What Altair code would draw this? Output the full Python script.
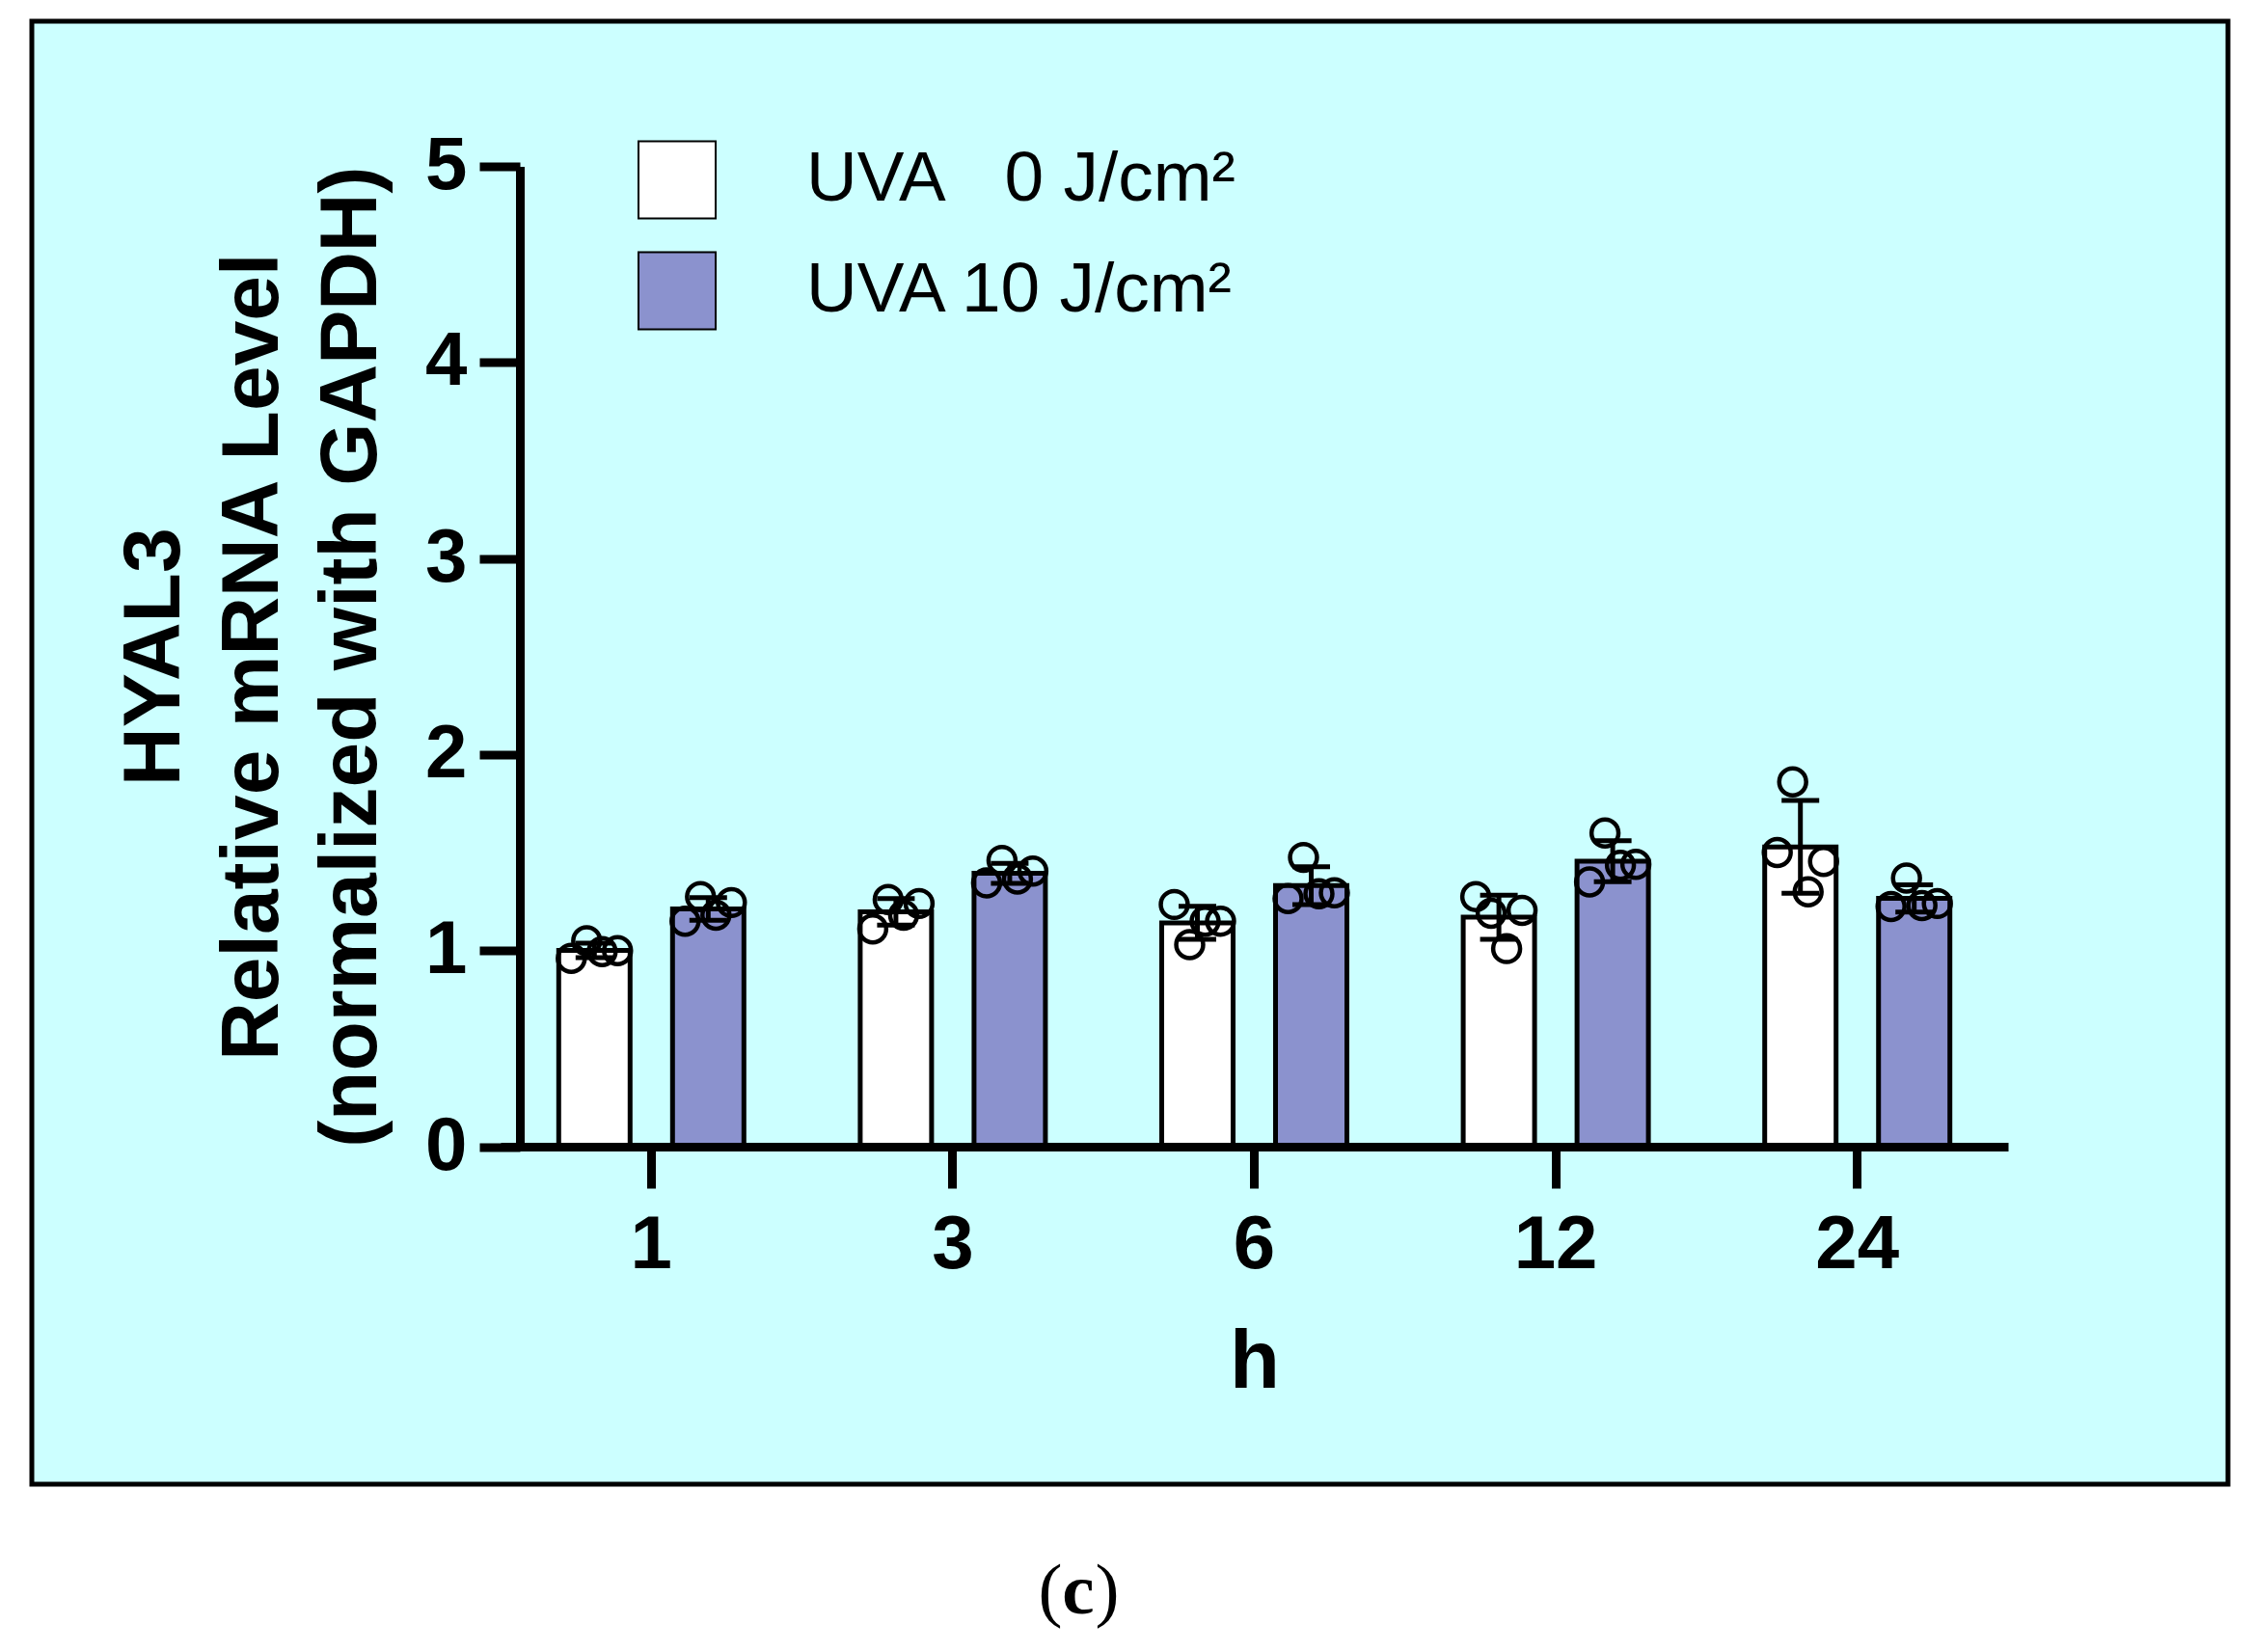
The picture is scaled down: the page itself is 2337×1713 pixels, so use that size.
import pandas as pd
import altair as alt

# hours after irradiation
TIMES = ["1", "3", "6", "12", "24"]
GROUPS = ["UVA\u00a0\u20070 J/cm\u00b2", "UVA 10 J/cm\u00b2"]
COLORS = ["#ffffff", "#8b92ce"]

# replicate values (4 per bar)
UVA0_REPS = [
    [0.96, 1.05, 0.995, 1.00],
    [1.11, 1.26, 1.18, 1.24],
    [1.235, 1.03, 1.15, 1.15],
    [1.275, 1.19, 1.01, 1.205],
    [1.50, 1.86, 1.30, 1.455],
]
UVA10_REPS = [
    [1.15, 1.275, 1.18, 1.245],
    [1.345, 1.46, 1.365, 1.405],
    [1.265, 1.475, 1.29, 1.295],
    [1.35, 1.60, 1.435, 1.44],
    [1.225, 1.37, 1.23, 1.24],
]

rows = []
for cond, reps in zip(GROUPS, [UVA0_REPS, UVA10_REPS]):
    for t, vals in zip(TIMES, reps):
        for i, v in enumerate(vals):
            rows.append({"time": t, "cond": cond, "rep": i + 1, "value": v})
df = pd.DataFrame(rows)

FONT = "Liberation Sans"
W, H = 1563, 1016.6

x_axis = alt.Axis(
    labelAngle=0, labelFont=FONT, labelFontSize=78, labelFontWeight="bold",
    labelColor="black", labelPadding=20, domainColor="black", domainWidth=9,
    tickColor="black", tickWidth=9, tickSize=43, grid=False,
    titleFont=FONT, titleFontSize=85, titleFontWeight="bold", titleColor="black",
    titlePadding=41, zindex=1,
)
y_axis = alt.Axis(
    values=[0, 1, 2, 3, 4, 5], format="d", labelFont=FONT, labelFontSize=78,
    labelFontWeight="bold", labelColor="black", labelPadding=13,
    domainColor="black", domainWidth=9, tickColor="black", tickWidth=9,
    tickSize=42, grid=False, offset=-20, zindex=1,
    titleFont=FONT, titleFontSize=84, titleFontWeight="bold", titleColor="black",
    titleLineHeight=102, titlePadding=33, titleLimit=3000,
)
Y_TITLE = ["HYAL3", "Relative mRNA Level", "(normalized with GAPDH)"]


def x_enc():
    return alt.X("time:N", sort=TIMES, title="h", axis=x_axis,
                 scale=alt.Scale(paddingInner=0, paddingOuter=0))


def y_enc(field):
    return alt.Y(field, title=Y_TITLE, axis=y_axis, scale=alt.Scale(domain=[0, 5]))


offset = alt.XOffset("cond:N", sort=GROUPS,
                     scale=alt.Scale(domain=GROUPS, paddingInner=0.373, paddingOuter=0.511))

base = alt.Chart(df)

bars = base.mark_bar(stroke="black", strokeWidth=5, opacity=1).encode(
    x=x_enc(),
    xOffset=offset,
    y=y_enc("mean(value):Q"),
    fill=alt.Fill(
        "cond:N", sort=GROUPS,
        scale=alt.Scale(domain=GROUPS, range=COLORS),
        legend=alt.Legend(
            title=None, orient="none", legendX=142, legendY=-27, padding=0,
            symbolType="square", symbolSize=6400, symbolStrokeColor="black",
            symbolStrokeWidth=2, symbolOpacity=1, labelFont=FONT, labelFontSize=73,
            labelColor="black", labelOffset=93, rowPadding=27, labelLimit=2000,
        ),
    ),
)

stats = base.transform_aggregate(
    mean="mean(value)", sd="stdev(value)", groupby=["time", "cond"]
).transform_calculate(lo="datum.mean - datum.sd", hi="datum.mean + datum.sd")

err_rule = stats.mark_rule(color="black", strokeWidth=5, opacity=1).encode(
    x=x_enc(), xOffset=offset, y=y_enc("lo:Q"), y2="hi:Q"
)
err_hi = stats.mark_tick(color="black", size=39, thickness=5, opacity=1).encode(
    x=x_enc(), xOffset=offset, y=y_enc("hi:Q")
)
err_lo = stats.mark_tick(color="black", size=39, thickness=5, opacity=1).encode(
    x=x_enc(), xOffset=offset, y=y_enc("lo:Q")
)

# scatter the replicates across each bar
points = base.transform_calculate(
    px=f"(datum.cond == '{GROUPS[0]}' ? -59 : 59) + (datum.rep - 2.5) * 16"
).mark_point(
    shape="circle", filled=False, size=780, strokeWidth=4.5, color="black", opacity=1
).encode(
    x=x_enc(),
    xOffset=alt.XOffset("px:Q", scale=alt.Scale(domain=[-156.3, 156.3], range=[0, 312.6])),
    y=y_enc("value:Q"),
)

one = pd.DataFrame({"a": [0]})
panel = alt.Chart(one).mark_rect(fill="#ccffff", stroke="black", strokeWidth=5).encode(
    x=alt.value(-486), x2=alt.value(1791), y=alt.value(-150.4), y2=alt.value(1366.6)
)
lp = alt.Chart(one).mark_text(text="(", font="Liberation Serif", fontSize=75,
                               baseline="alphabetic", color="black").encode(
    x=alt.value(570), y=alt.value(1500.6))
lc = alt.Chart(one).mark_text(text="c", font="Liberation Serif", fontSize=75,
                               fontWeight="bold", baseline="alphabetic", color="black").encode(
    x=alt.value(599), y=alt.value(1500.6))
rp = alt.Chart(one).mark_text(text=")", font="Liberation Serif", fontSize=75,
                               baseline="alphabetic", color="black").encode(
    x=alt.value(629), y=alt.value(1500.6))

chart = (
    alt.layer(panel, bars, err_rule, err_hi, err_lo, points, lp, lc, rp)
    .resolve_scale(xOffset="independent")
    .properties(
        width=W, height=H,
        padding={"left": 511, "top": 164.4, "right": 247, "bottom": 516},
        autosize=alt.AutoSizeParams(type="none"),
    )
    .configure(background="white")
    .configure_view(strokeWidth=0)
)

chart.save("out.html", embed_options={"renderer": "svg", "actions": False})
